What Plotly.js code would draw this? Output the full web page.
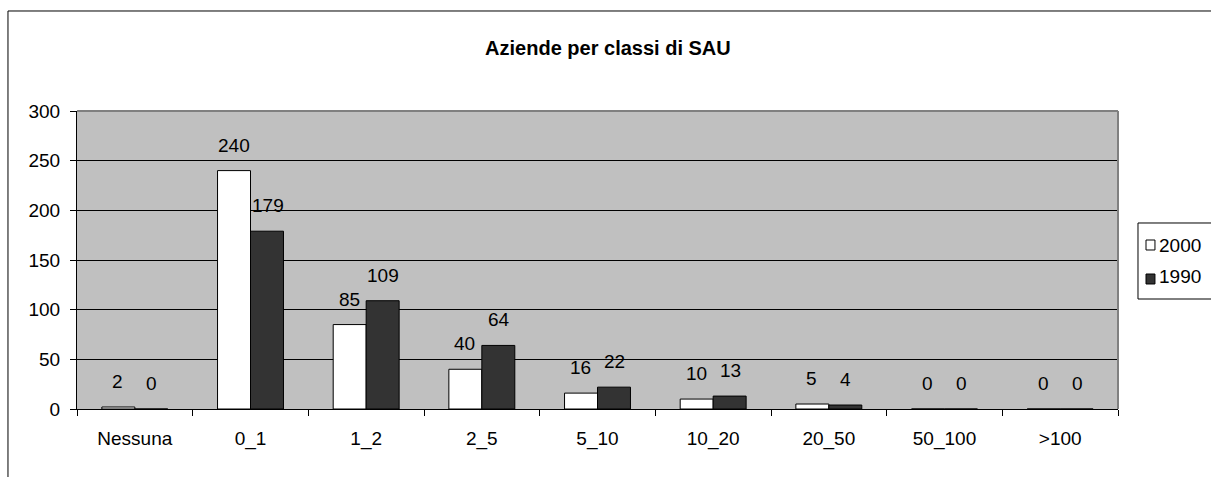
<!DOCTYPE html>
<html>
<head>
<meta charset="utf-8">
<script src="https://cdn.plot.ly/plotly-3.0.1.min.js"></script>
<style>html,body{margin:0;padding:0;background:#fff;}#chart{width:1211px;height:477px;}</style>
</head>
<body>
<div id="chart"></div>
<script>
const categories = ["Nessuna", "0_1", "1_2", "2_5", "5_10", "10_20", "20_50", "50_100", ">100"];
const values2000 = [2, 240, 85, 40, 16, 10, 5, 0, 0];
const values1990 = [0, 179, 109, 64, 22, 13, 4, 0, 0];
const seriesNames = ["2000", "1990"];
const seriesColors = ["#ffffff", "#333333"];
const yTicks = [0, 50, 100, 150, 200, 250, 300];

const FONT = "Liberation Sans, Arial, sans-serif";

const traces = [
  {type: "bar", name: seriesNames[0], x: categories, y: values2000,
   marker: {color: seriesColors[0], line: {color: "#000000", width: 1}}},
  {type: "bar", name: seriesNames[1], x: categories, y: values1990,
   marker: {color: seriesColors[1], line: {color: "#000000", width: 1}}}
];

const annotations = [];
[[values2000, -17], [values1990, 17]].forEach(([vals, dx]) => {
  vals.forEach((v, i) => {
    annotations.push({x: categories[i], y: v, xref: "x", yref: "y", text: String(v),
      showarrow: false, xshift: dx, yshift: 13, yanchor: "bottom",
      font: {family: FONT, size: 19, color: "#000"}});
  });
});

// manual legend (Plotly's own legend is too wide for the space at the right edge)
const legendTextY = [0.5503, 0.4430];
const legendSquares = [[0.5336, 0.5671], [0.4195, 0.4530]];
const shapes = [
  {type: "rect", xref: "paper", yref: "paper", x0: -0.0663, x1: 1.3, y0: -0.4, y1: 1.3356,
   line: {color: "#000", width: 1}, fillcolor: "rgba(0,0,0,0)", layer: "below"},
  {type: "line", xref: "paper", yref: "paper", x0: 0, x1: 1, y0: 1, y1: 1,
   line: {color: "#808080", width: 2}},
  {type: "line", xref: "paper", yref: "paper", x0: 1, x1: 1, y0: 0, y1: 1,
   line: {color: "#808080", width: 2}},
  {type: "rect", xref: "paper", yref: "paper", x0: 1.0192, x1: 1.2, y0: 0.3691, y1: 0.6242,
   line: {color: "#000", width: 1}, fillcolor: "#ffffff"}
];
seriesNames.forEach((name, k) => {
  shapes.push({type: "rect", xref: "paper", yref: "paper", x0: 1.0269, x1: 1.0355,
    y0: legendSquares[k][0], y1: legendSquares[k][1],
    line: {color: "#000", width: 1}, fillcolor: seriesColors[k]});
  annotations.push({xref: "paper", yref: "paper", x: 1.0375, y: legendTextY[k], text: name,
    showarrow: false, xanchor: "left", yanchor: "middle",
    font: {family: FONT, size: 19, color: "#000"}});
});

const layout = {
  width: 1211, height: 477,
  margin: {l: 77, r: 93, t: 111, b: 68, autoexpand: false},
  paper_bgcolor: "#ffffff", plot_bgcolor: "#c0c0c0",
  font: {family: FONT, size: 19, color: "#000"},
  title: {text: "<b>Aziende per classi di SAU</b>", font: {family: FONT, size: 20, color: "#000"},
          x: 0.502, xanchor: "center", y: 0.9, yanchor: "middle", yref: "container"},
  barmode: "group", bargap: 0.43, bargroupgap: 0,
  showlegend: false,
  xaxis: {type: "category", showline: true, linecolor: "#000", linewidth: 1,
          ticks: "outside", tickson: "boundaries", ticklen: 6, tickcolor: "#000",
          tickfont: {family: FONT, size: 19}, showgrid: false, fixedrange: true,
          ticklabelstandoff: 12},
  yaxis: {range: [0, 300], tickvals: yTicks, showline: true, linecolor: "#000", linewidth: 1,
          ticks: "outside", ticklen: 6, tickcolor: "#000", showgrid: true, gridcolor: "#000",
          gridwidth: 1, zeroline: false, tickfont: {family: FONT, size: 19}, ticklabelstandoff: 6},
  annotations: annotations,
  shapes: shapes
};

Plotly.newPlot("chart", traces, layout, {displayModeBar: false, staticPlot: true});
</script>
</body>
</html>
